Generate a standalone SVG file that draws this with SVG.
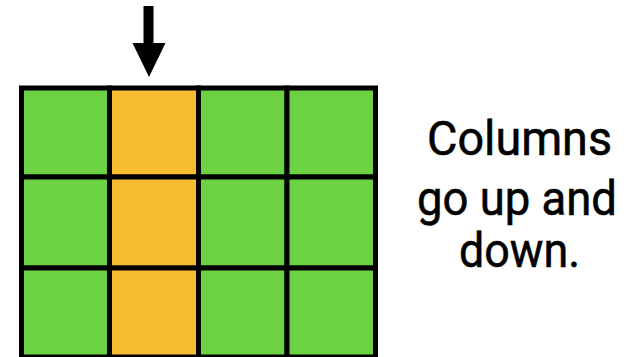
<svg xmlns="http://www.w3.org/2000/svg" width="639" height="357" viewBox="0 0 639 357">
<style>
.g{fill:#6DD243;stroke:#000;stroke-width:5}
.o{fill:#F7BC31;stroke:#000;stroke-width:5}
.t{font-family:Roboto,"Liberation Sans",Arial,sans-serif;font-size:49px;fill:#000;stroke:#000;stroke-width:0.6;text-anchor:start}
</style>
<rect width="639" height="357" fill="#fff"/>
<g id="grid">
<g id="r1c1"><rect class="g" x="21.5" y="88" width="88" height="89"/></g>
<g id="r1c2"><rect class="o" x="109.5" y="88" width="89" height="89"/></g>
<g id="r1c3"><rect class="g" x="198.5" y="88" width="88.5" height="89"/></g>
<g id="r1c4"><rect class="g" x="287" y="88" width="88.5" height="89"/></g>
<g id="r2c1"><rect class="g" x="21.5" y="177" width="88" height="91"/></g>
<g id="r2c2"><rect class="o" x="109.5" y="177" width="89" height="91"/></g>
<g id="r2c3"><rect class="g" x="198.5" y="177" width="88.5" height="91"/></g>
<g id="r2c4"><rect class="g" x="287" y="177" width="88.5" height="91"/></g>
<g id="r3c1"><rect class="g" x="21.5" y="268" width="88" height="89"/></g>
<g id="r3c2"><rect class="o" x="109.5" y="268" width="89" height="89"/></g>
<g id="r3c3"><rect class="g" x="198.5" y="268" width="88.5" height="89"/></g>
<g id="r3c4"><rect class="g" x="287" y="268" width="88.5" height="89"/></g>
</g>
<g id="connectors">
<rect x="143.5" y="6" width="10" height="40" fill="#000"/>
<polygon points="132.5,43 165.5,43 149,77" fill="#000"/>
</g>
<g id="label">
<text class="t" x="427" y="155" textLength="185" lengthAdjust="spacingAndGlyphs">Columns</text>
<text class="t" x="417" y="215" textLength="200" lengthAdjust="spacingAndGlyphs">go up and</text>
<text class="t" x="459" y="267" textLength="121" lengthAdjust="spacingAndGlyphs">down.</text>
</g>
</svg>
